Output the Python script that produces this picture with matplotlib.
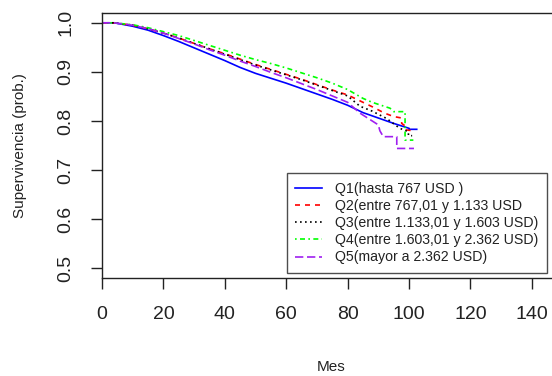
import matplotlib.pyplot as plt

# Survival curves (months, survival prob.).
# Repeated months mark the visible vertical drops near the end of follow-up.
q1_t = [0, 4, 10, 15, 20, 25, 30, 35, 40, 45, 50, 55, 60, 65, 70, 75, 80, 85, 90, 95, 100, 100, 102.5]
q1_s = [1.0, 1.0, 0.993, 0.985, 0.974, 0.962, 0.949, 0.936, 0.923, 0.909, 0.897, 0.887, 0.877,
        0.866, 0.855, 0.844, 0.832, 0.817, 0.806, 0.795, 0.785, 0.783, 0.783]

q2_t = [0, 4, 10, 15, 20, 25, 30, 35, 40, 45, 50, 55, 60, 65, 70, 75, 80, 85, 88, 92, 95, 97.6,
        97.6, 98.7, 98.7, 101.4]
q2_s = [1.0, 1.0, 0.995, 0.988, 0.979, 0.969, 0.958, 0.947, 0.937, 0.926, 0.915, 0.905, 0.895,
        0.885, 0.874, 0.863, 0.853, 0.838, 0.829, 0.816, 0.809, 0.806, 0.795, 0.790, 0.782, 0.780]

q3_t = [0, 4, 10, 15, 20, 25, 30, 35, 40, 45, 50, 55, 60, 65, 70, 75, 80, 84, 88, 92.7, 97,
        99.8, 99.8, 101]
q3_s = [1.0, 1.0, 0.995, 0.988, 0.979, 0.969, 0.958, 0.947, 0.936, 0.925, 0.914, 0.904, 0.894,
        0.884, 0.873, 0.862, 0.851, 0.830, 0.820, 0.805, 0.785, 0.778, 0.770, 0.770]

q4_t = [0, 4, 10, 15, 20, 25, 30, 35, 40, 45, 50, 55, 60, 65, 70, 75, 80, 85, 88, 93.8, 95,
        98.7, 98.7, 101.4]
q4_s = [1.0, 1.0, 0.996, 0.990, 0.982, 0.974, 0.964, 0.954, 0.944, 0.934, 0.925, 0.917, 0.908,
        0.898, 0.888, 0.877, 0.864, 0.846, 0.838, 0.826, 0.819, 0.819, 0.761, 0.761]

q5_t = [0, 4, 10, 15, 20, 25, 30, 35, 40, 45, 50, 55, 60, 65, 70, 75, 80, 84, 90, 90.5, 91.6,
        96, 96, 101.6]
q5_s = [1.0, 1.0, 0.995, 0.988, 0.979, 0.968, 0.957, 0.945, 0.934, 0.922, 0.911, 0.899, 0.888,
        0.876, 0.864, 0.851, 0.838, 0.816, 0.792, 0.780, 0.768, 0.768, 0.744, 0.744]

labels = ["Q1(hasta 767 USD )",
          "Q2(entre 767,01 y 1.133 USD",
          "Q3(entre 1.133,01 y 1.603 USD)",
          "Q4(entre 1.603,01 y 2.362 USD)",
          "Q5(mayor a 2.362 USD)"]

x_ticks = [0, 20, 40, 60, 80, 100, 120, 140]
y_ticks = [0.5, 0.6, 0.7, 0.8, 0.9, 1.0]

plt.rcParams['font.family'] = ['Liberation Sans', 'DejaVu Sans']
ink = '#222222'

fig = plt.figure(figsize=(5.52, 3.76), dpi=100)
# R-style plot region, right side cropped out of the picture like the original
ax = fig.add_axes([102 / 552, 98 / 376, 479 / 552, 265 / 376])

lw = 1.2
ax.plot(q1_t, q1_s, color='#0000FF', lw=lw, label=labels[0])
ax.plot(q2_t, q2_s, color='#FF0000', lw=lw, dashes=(3, 3), label=labels[1])
ax.plot(q3_t, q3_s, color='black', lw=lw, dashes=(1, 2), label=labels[2])
ax.plot(q4_t, q4_s, color='#00FF00', lw=lw, dashes=(1, 2, 3, 2), label=labels[3])
ax.plot(q5_t, q5_s, color='#A020F0', lw=lw, dashes=(5, 2.2), label=labels[4])

ax.set_xlim(0, 156)
ax.set_ylim(0.48, 1.02)
ax.set_xticks(x_ticks)
ax.set_yticks(y_ticks)
ax.set_yticklabels([f"{v:.1f}" for v in y_ticks], rotation=90, va='center')
ax.tick_params(direction='out', length=8, width=1, colors=ink, labelsize=14, pad=12)

for sp in ax.spines.values():
    sp.set_color(ink)
    sp.set_linewidth(1)

fig.text(331 / 552, 1 - 367 / 376, "Mes", ha='center', va='center', fontsize=11, color=ink)
fig.text(20 / 552, 1 - 146 / 376, "Supervivencia (prob.)", ha='center', va='center',
         rotation=90, fontsize=11, color=ink)

leg = ax.legend(loc='lower left', bbox_to_anchor=(0.386, 0.019), fontsize=10.2,
                frameon=True, fancybox=False, borderaxespad=0, handlelength=1.9,
                handletextpad=0.9, labelspacing=0.22, borderpad=0.6)
leg.get_frame().set_edgecolor(ink)
leg.get_frame().set_linewidth(1)
for t in leg.get_texts():
    t.set_color(ink)

fig.savefig("out.png", dpi=100)
